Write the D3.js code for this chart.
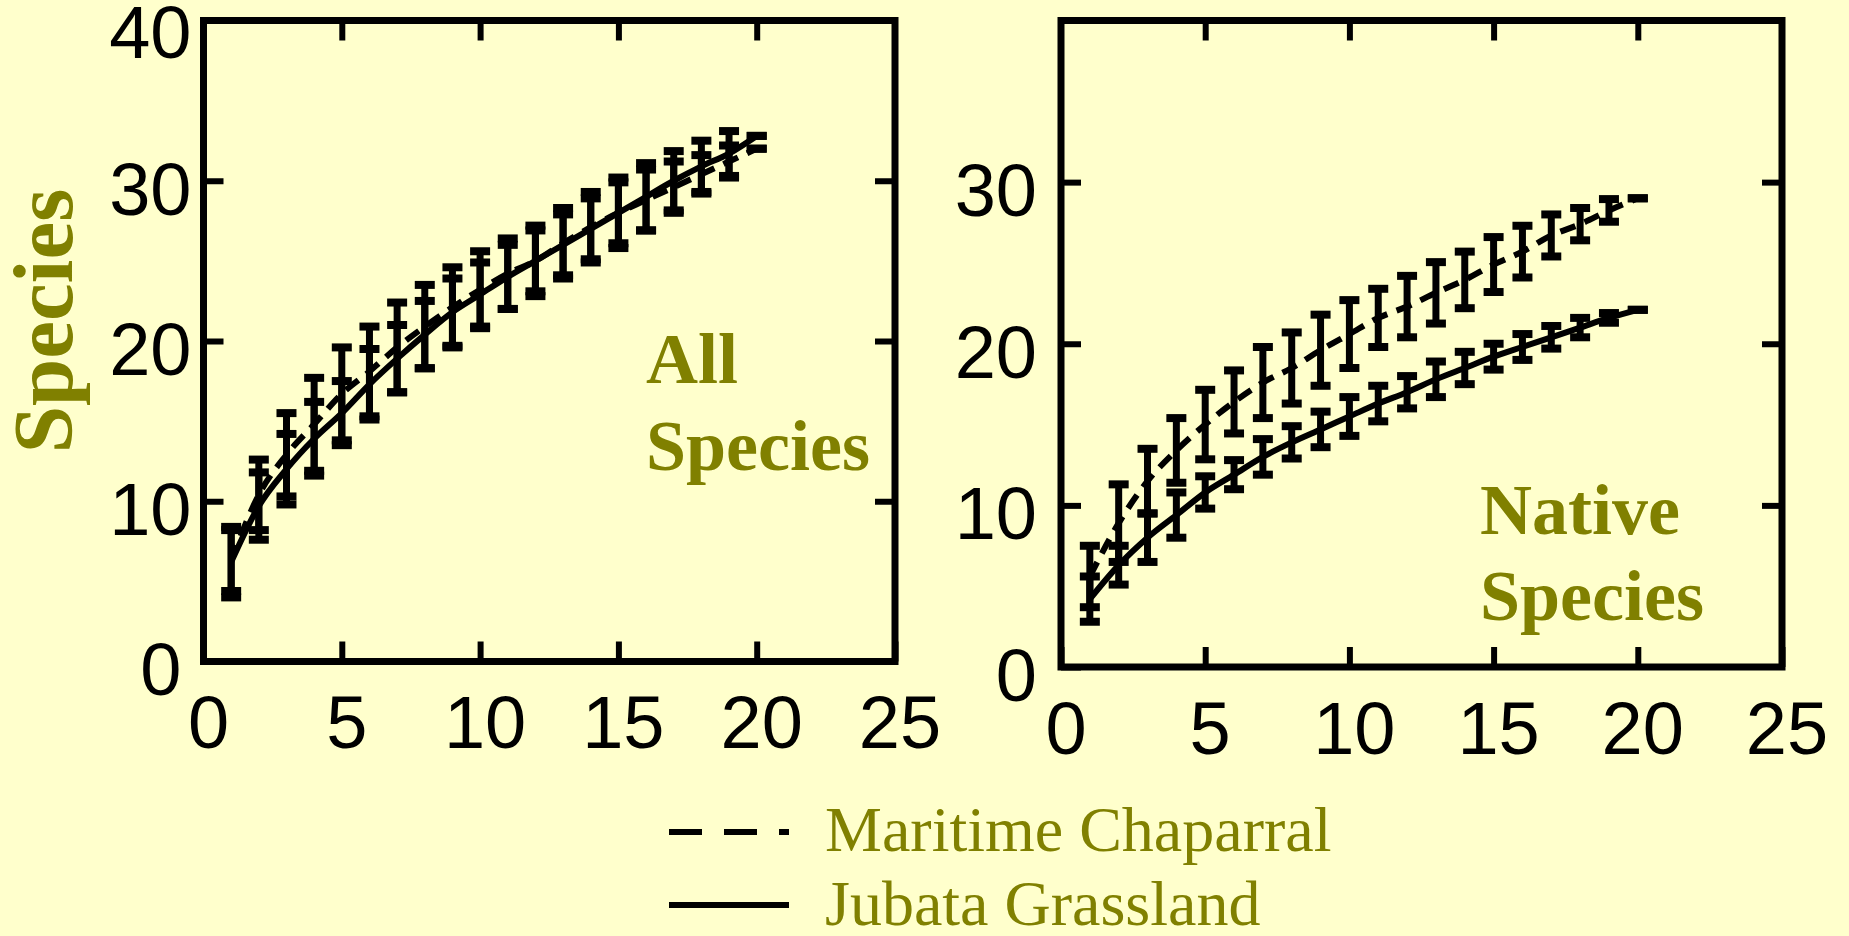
<!DOCTYPE html>
<html>
<head>
<meta charset="utf-8">
<script src="https://cdn.jsdelivr.net/npm/d3@7"></script>
<style>
  html, body { margin: 0; padding: 0; background: #ffffcc; }
  svg { display: block; }
  .tick text { font-family: "Liberation Sans", Arial, sans-serif; font-size: 74px; fill: #000; }
  .tick line { stroke: #000; stroke-width: 6; }
  .domain { display: none; }
</style>
</head>
<body>
<svg id="chart" width="1849" height="936"></svg>
<script>
// sample plots (x) shared by every series
const samples = [1, 2, 3, 4, 5, 6, 7, 8, 9, 10, 11, 12, 13, 14, 15, 16, 17, 18, 19, 20]

// all species
const allMaritime = [6.3, 10.4, 12.9, 14.8, 16.7, 18.1, 19.6, 20.9, 22.1, 23.2, 24.2, 25.0, 26.1, 27.1, 28.0, 28.8, 29.6, 30.4, 31.2, 32.0]
const allMaritimeErr = [1.9, 2.2, 2.6, 2.9, 2.9, 2.8, 2.8, 2.6, 2.5, 2.4, 2.2, 2.2, 2.2, 2.2, 2.2, 1.9, 1.6, 1.2, 1.0, 0]
const allJubata = [6.2, 9.7, 12.0, 13.9, 15.5, 17.3, 18.9, 20.4, 21.8, 22.9, 24.0, 25.0, 26.0, 27.0, 28.0, 29.0, 30.0, 30.9, 31.7, 32.8]
const allJubataErr = [2.2, 2.1, 2.2, 2.3, 2.0, 2.2, 2.1, 2.1, 2.1, 2.0, 2.0, 1.9, 1.9, 1.9, 1.9, 2.1, 1.85, 1.6, 1.4, 0]

// native species
const nativeMaritime = [5.6, 8.9, 11.5, 13.4, 15.0, 16.4, 17.6, 18.5, 19.6, 20.6, 21.6, 22.3, 23.15, 23.95, 24.9, 25.7, 26.7, 27.4, 28.25, 29.0]
const nativeMaritimeErr = [1.9, 2.4, 2.0, 2.0, 2.15, 1.95, 2.2, 2.2, 2.2, 2.1, 1.8, 1.9, 1.9, 1.75, 1.7, 1.6, 1.3, 1.0, 0.7, 0]
const nativeJubata = [4.2, 6.3, 8.0, 9.4, 10.8, 11.9, 13.0, 13.9, 14.7, 15.5, 16.3, 17.0, 17.8, 18.5, 19.2, 19.8, 20.4, 21.0, 21.6, 22.1]
const nativeJubataErr = [1.4, 1.2, 1.5, 1.4, 1.0, 0.9, 1.1, 1.0, 1.1, 1.2, 1.1, 1.0, 1.1, 1.0, 0.8, 0.8, 0.7, 0.6, 0.3, 0]

// ticks
const xLabels = [0, 5, 10, 15, 20, 25]
const xTickMarks = [5, 10, 15, 20]
const yTickMarks = [10, 20, 30]

const seriesNames = ['Maritime Chaparral', 'Jubata Grassland']

const OLIVE = '#808000'
const svg = d3.select('#chart')

const panels = [
  {
    left: 203.5, right: 895, top: 20.5, bottom: 661.5,
    yLabels: [0, 10, 20, 30, 40], yPad: 12, zeroShift: -10,
    maritime: allMaritime, maritimeErr: allMaritimeErr,
    jubata: allJubata, jubataErr: allJubataErr,
    label: ['All', 'Species'], labelX: 646, labelY: [383, 470]
  },
  {
    left: 1061, right: 1782, top: 20.5, bottom: 667,
    yLabels: [0, 10, 20, 30], yPad: 24, zeroShift: 0,
    maritime: nativeMaritime, maritimeErr: nativeMaritimeErr,
    jubata: nativeJubata, jubataErr: nativeJubataErr,
    label: ['Native', 'Species'], labelX: 1480, labelY: [534, 620]
  }
]

function drawPanel(p) {
  const x = d3.scaleLinear().domain([0, 25]).range([p.left, p.right])
  const y = d3.scaleLinear().domain([0, 40]).range([p.bottom, p.top])
  const g = svg.append('g')

  // inward ticks on all sides
  g.append('g')
    .attr('transform', `translate(${p.left},0)`)
    .call(d3.axisLeft(y).tickValues(p.yLabels).tickSize(-20).tickSizeOuter(0).tickPadding(p.yPad))
    .selectAll('text')
    .attr('dy', d => d === 40 ? '0.5em' : '0.45em')
    .attr('dx', d => d === 0 ? p.zeroShift : 0)

  g.append('g')
    .attr('transform', `translate(${p.right},0)`)
    .call(d3.axisRight(y).tickValues(yTickMarks).tickSize(-20).tickSizeOuter(0).tickFormat(''))

  g.append('g')
    .attr('transform', `translate(0,${p.top})`)
    .call(d3.axisTop(x).tickValues(xTickMarks).tickSize(-20).tickSizeOuter(0).tickFormat(''))

  g.append('g')
    .attr('transform', `translate(0,${p.bottom})`)
    .call(d3.axisBottom(x).tickValues(xLabels).tickSize(-20).tickSizeOuter(0).tickPadding(34))
    .selectAll('text')
    .attr('dx', '0.06em')

  g.append('rect')
    .attr('x', p.left)
    .attr('y', p.top)
    .attr('width', p.right - p.left)
    .attr('height', p.bottom - p.top)
    .attr('fill', 'none')
    .attr('stroke', '#000')
    .attr('stroke-width', 7)

  const line = d3.line()
    .x((d, i) => x(samples[i]))
    .y(d => y(d))
    .curve(d3.curveMonotoneX)

  const series = [
    { values: p.jubata, err: p.jubataErr, dash: null },
    { values: p.maritime, err: p.maritimeErr, dash: '16,10' }
  ]

  series.forEach(s => {
    g.append('path')
      .datum(s.values)
      .attr('d', line)
      .attr('fill', 'none')
      .attr('stroke', '#000')
      .attr('stroke-width', 6)
      .attr('stroke-dasharray', s.dash)

    const bars = g.append('g')
      .attr('class', 'errorbars')
      .selectAll('g')
      .data(s.values.map((v, i) => ({ n: samples[i], v, e: s.err[i] })))
      .enter()
      .append('g')
      .attr('stroke', '#000')

    bars.append('line')
      .attr('stroke-width', 7)
      .attr('x1', d => x(d.n))
      .attr('x2', d => x(d.n))
      .attr('y1', d => y(d.v - d.e))
      .attr('y2', d => y(d.v + d.e))

    bars.append('line')
      .attr('stroke-width', 8)
      .attr('x1', d => x(d.n) - 10)
      .attr('x2', d => x(d.n) + 10)
      .attr('y1', d => y(d.v + d.e))
      .attr('y2', d => y(d.v + d.e))

    bars.append('line')
      .attr('stroke-width', 8)
      .attr('x1', d => x(d.n) - 10)
      .attr('x2', d => x(d.n) + 10)
      .attr('y1', d => y(d.v - d.e))
      .attr('y2', d => y(d.v - d.e))
  })

  g.append('g')
    .selectAll('text')
    .data(p.label)
    .enter()
    .append('text')
    .attr('x', p.labelX)
    .attr('y', (d, i) => p.labelY[i])
    .attr('fill', OLIVE)
    .style('font-family', '"Liberation Serif", "Times New Roman", serif')
    .style('font-weight', 'bold')
    .style('font-size', '72px')
    .text(d => d)
}

panels.forEach(drawPanel)

// y axis title
svg.append('text')
  .attr('transform', 'translate(72,321) rotate(-90)')
  .attr('text-anchor', 'middle')
  .attr('fill', OLIVE)
  .style('font-family', '"Liberation Serif", "Times New Roman", serif')
  .style('font-weight', 'bold')
  .style('font-size', '85px')
  .text('Species')

// legend
const legend = svg.append('g')
  .attr('transform', 'translate(669,0)')
const legendRows = [
  { y: 832, dash: '33,22', textY: 851 },
  { y: 905, dash: null, textY: 925 }
]
legendRows.forEach((r, i) => {
  legend.append('line')
    .attr('x1', 0)
    .attr('x2', 120)
    .attr('y1', r.y)
    .attr('y2', r.y)
    .attr('stroke', '#000')
    .attr('stroke-width', 6)
    .attr('stroke-dasharray', r.dash)
  legend.append('text')
    .attr('x', 156)
    .attr('y', r.textY)
    .attr('fill', OLIVE)
    .style('font-family', '"Liberation Serif", "Times New Roman", serif')
    .style('font-size', '64px')
    .text(seriesNames[i])
})
</script>
</body>
</html>
